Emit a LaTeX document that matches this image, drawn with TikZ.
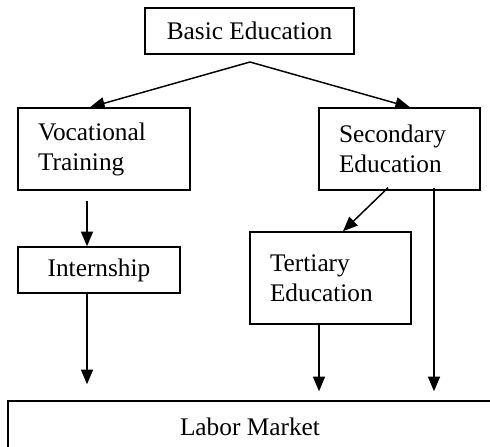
\documentclass[tikz,border=0pt]{standalone}
\usepackage{fontspec}
\setmainfont{Liberation Serif}
\usetikzlibrary{arrows.meta}

\begin{document}
\begin{tikzpicture}[x=0.75pt, y=-0.75pt,
  box/.style={draw, line width=1.1pt, rectangle, inner sep=0pt, font=\fontsize{19}{22.5}\selectfont},
  leftbox/.style={box, align=left, text width=#1},
  arr/.style={line width=1.1pt, -{Triangle[length=11pt,width=9pt]}}]
\useasboundingbox (0,0) rectangle (490,447);

\draw (249.5,31) node (basic) [box, minimum width=156.75pt, minimum height=34.5pt] {Basic Education} ;

\coordinate (fork) at (250,62) ;

\draw (104,149) node (voc) [leftbox=99pt, minimum width=129pt, minimum height=61.5pt] {Vocational\\Training} ;
\draw (399.5,149) node (sec) [leftbox=90.75pt, minimum width=120.75pt, minimum height=61.5pt] {Secondary\\Education} ;
\draw[arr] (fork) to ([xshift=-10.5pt]voc.north) ;
\draw[arr] (fork) to ([xshift=7.875pt]sec.north) ;

\draw (99,270) node (intern) [box, minimum width=121.5pt, minimum height=34.5pt] {Internship} ;
\draw (330.5,278) node (tert) [leftbox=90.75pt, minimum width=120.75pt, minimum height=69pt] {Tertiary\\Education\\[3pt]} ;
\draw[arr] ([xshift=-12.75pt,yshift=-7.5pt]voc.south) to ([xshift=-9pt]intern.north) ;
\draw[arr] ([xshift=-8.625pt,yshift=2.25pt]sec.south) to ([xshift=9.375pt]tert.north) ;

\draw (250,427) node (labor) [box, minimum width=363pt, minimum height=39pt] {Labor Market} ;
\draw[arr] ([xshift=-9pt]intern.south) to ([xshift=-122.25pt,yshift=12pt]labor.north) ;
\draw[arr] ([xshift=-8.625pt]tert.south) to ([xshift=51.75pt,yshift=6.75pt]labor.north) ;
\draw[arr] ([xshift=25.875pt,yshift=2.25pt]sec.south) to ([xshift=138pt,yshift=6.75pt]labor.north) ;

\end{tikzpicture}
\end{document}
